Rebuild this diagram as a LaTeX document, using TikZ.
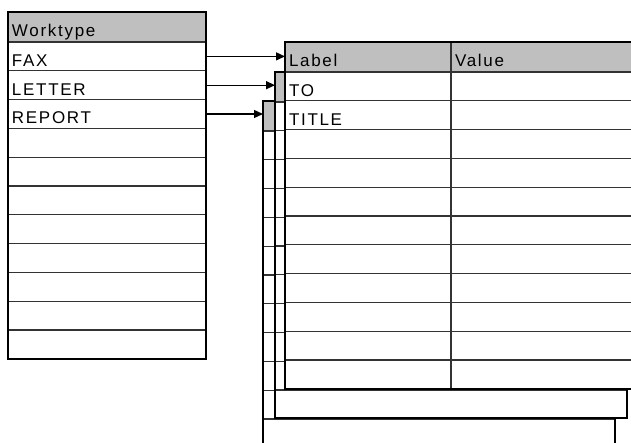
\documentclass[tikz,border=0pt]{standalone}
\usepackage{fontspec}
\setmainfont{Liberation Sans}[LetterSpace=10]
\usetikzlibrary{arrows.meta, positioning}

\tikzset{
  rowcell/.style={fill=white, draw=black!80, line width=1.2pt, anchor=north west,
    outer sep=0pt, inner xsep=4pt, inner ysep=0pt, minimum height=28.8pt,
    text height=20pt, text depth=0pt, align=left,
    font=\fontsize{17pt}{20pt}\selectfont},
  hdcell/.style={rowcell, fill=black!25, minimum height=30pt},
  frame/.style={draw=black, line width=2.4pt},
  grid/.style={draw=black!80, line width=1.2pt},
  link/.style={line width=1.3pt, -{Triangle[length=9pt,width=8pt]}}
}

\begin{document}
\begin{tikzpicture}[x=1pt, y=-1pt]
  \useasboundingbox (0,0) rectangle (631,443);
  \clip (0,0) rectangle (631,443);

  % tables behind
  \foreach \n/\x/\y in {3/263/101, 2/275/72} {
    \fill[white] (\x,\y) rectangle ++(352,346);
    \node[hdcell, minimum width=352pt] (hd\n) at (\x,\y) {};
    \foreach \k in {1,...,10}
      \draw[grid] (\x,{\y+30+28.8*\k}) -- ++(352,0);
    \draw[frame] (\x,\y) rectangle ++(352,346);
  }

  % front table
  \node[hdcell, text width=158pt] (hd1) at (285,42) {Label};
  \node[hdcell, text width=178pt, right=0pt of hd1] (val) {Value};
  \node[rowcell, text width=158pt, below=0pt of hd1] (lb1) {TO};
  \node[rowcell, text width=178pt, right=0pt of lb1] (vl1) {};
  \node[rowcell, text width=158pt, below=0pt of lb1] (lb2) {TITLE};
  \node[rowcell, text width=178pt, right=0pt of lb2] (vl2) {};
  \foreach \i [remember=\i as \j (initially 2)] in {3,...,11} {
    \node[rowcell, text width=158pt, below=0pt of lb\j] (lb\i) {};
    \node[rowcell, text width=178pt, right=0pt of lb\i] (vl\i) {};
  }
  \draw[frame] (hd1.north west) rectangle (vl11.south east);

  % worktype table
  \node[hdcell, text width=190pt] (wt) at (8,12) {Worktype};
  \node[rowcell, text width=190pt, below=0pt of wt] (wt1) {FAX};
  \node[rowcell, text width=190pt, below=0pt of wt1] (wt2) {LETTER};
  \node[rowcell, text width=190pt, below=0pt of wt2] (wt3) {REPORT};
  \foreach \i [remember=\i as \j (initially 3)] in {4,...,11}
    \node[rowcell, text width=190pt, below=0pt of wt\j] (wt\i) {};
  \draw[frame] (wt.north west) rectangle (wt11.south east);

  \draw[link] (wt1.east) -- (wt1.east -| hd1.west);
  \draw[link] (wt2.east) -- (wt2.east -| hd2.west);
  \draw[link] (wt3.east) -- (wt3.east -| hd3.west);
\end{tikzpicture}
\end{document}
